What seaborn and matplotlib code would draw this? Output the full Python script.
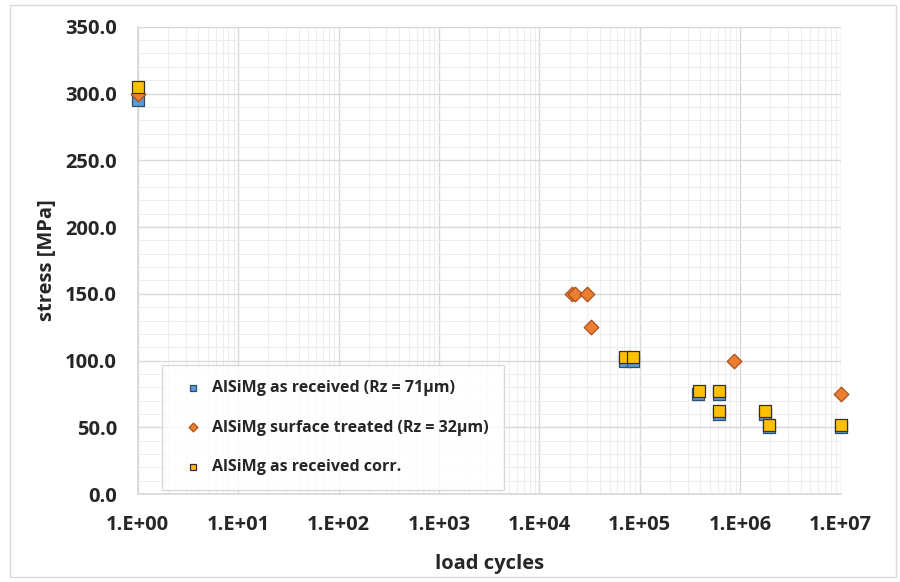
import numpy as np
import pandas as pd
import seaborn as sns
import matplotlib.pyplot as plt
from matplotlib.ticker import FixedLocator, MultipleLocator, LogLocator, NullFormatter
from matplotlib.patches import Rectangle

# values
received_cycles = [1, 7.1e4, 8.5e4, 3.8e5, 6.1e5, 6.1e5, 1.77e6, 1.94e6, 1.0e7]
received_stress = [295, 100, 100, 75, 75, 60, 60, 50, 50]

treated_cycles = [1, 2.1e4, 2.25e4, 2.95e4, 3.3e4, 8.7e5, 1.0e7]
treated_stress = [300, 150, 150, 150, 125, 100, 75]

corr_cycles = [1, 7.1e4, 8.5e4, 3.85e5, 6.1e5, 6.1e5, 1.77e6, 1.94e6, 1.0e7]
corr_stress = [305, 103, 103, 77, 77, 62, 62, 52, 52]

series_names = ["AlSiMg as received (Rz = 71µm)",
                "AlSiMg surface treated (Rz = 32µm)",
                "AlSiMg as received corr."]
x_tick_labels = ["1.E+00", "1.E+01", "1.E+02", "1.E+03",
                 "1.E+04", "1.E+05", "1.E+06", "1.E+07"]

df = pd.concat([
    pd.DataFrame({"cycles": received_cycles, "stress": received_stress, "series": series_names[0]}),
    pd.DataFrame({"cycles": treated_cycles, "stress": treated_stress, "series": series_names[1]}),
    pd.DataFrame({"cycles": corr_cycles, "stress": corr_stress, "series": series_names[2]}),
], ignore_index=True)

sns.set_theme(style="white")
plt.rcParams['font.family'] = ['Open Sans', 'DejaVu Sans']

fig = plt.figure(figsize=(9, 5.82), dpi=100)
ax = fig.add_axes([0.153, 0.151, 0.781, 0.803])

palette = {series_names[0]: "#5B9BD5", series_names[1]: "#ED7D31", series_names[2]: "#FFC000"}
markers = {series_names[0]: "s", series_names[1]: "D", series_names[2]: "s"}
edges = {series_names[0]: "#2F4F6F", series_names[1]: "#A8521C", series_names[2]: "#3A3020"}
sizes = {series_names[0]: 70, series_names[1]: 55, series_names[2]: 70}

for name in series_names:
    sns.scatterplot(data=df[df["series"] == name], x="cycles", y="stress",
                    color=palette[name], marker=markers[name], s=sizes[name],
                    edgecolor=edges[name], linewidth=0.9, label=name, ax=ax,
                    zorder=3, clip_on=False)

ax.set_xscale("log")
ax.set_xlim(1, 1e7)
ax.set_ylim(0, 350)

ax.xaxis.set_major_locator(FixedLocator([10.0 ** i for i in range(8)]))
ax.set_xticklabels(x_tick_labels)
ax.xaxis.set_minor_locator(LogLocator(base=10, subs=np.arange(2, 10), numticks=100))
ax.xaxis.set_minor_formatter(NullFormatter())
ax.yaxis.set_major_locator(MultipleLocator(50))
ax.yaxis.set_minor_locator(MultipleLocator(10))
ax.yaxis.set_major_formatter(plt.FuncFormatter(lambda v, p: f"{v:.1f}"))

ax.grid(which="major", color="#D9D9D9", linewidth=1.0)
ax.grid(which="minor", color="#EDEDED", linewidth=0.7)
ax.set_axisbelow(True)
for side in ["top", "right"]:
    ax.spines[side].set_visible(False)
ax.spines["bottom"].set_color("#D9D9D9")
ax.spines["left"].set_color("#D9D9D9")

ax.tick_params(axis="both", which="minor", length=0)
ax.tick_params(axis="both", which="major", length=7, color="#D9D9D9", width=1.0)
ax.tick_params(axis="y", pad=8, labelsize=14.5)
ax.tick_params(axis="x", pad=8, labelsize=14.5)
for lab in ax.get_xticklabels() + ax.get_yticklabels():
    lab.set_fontweight("bold")

ax.set_xlabel("load cycles", fontsize=14.5, fontweight="bold", labelpad=14)
ax.set_ylabel("stress [MPa]", fontsize=14.5, fontweight="bold", labelpad=6)

leg = ax.legend(loc="lower left", bbox_to_anchor=(0.034, 0.009), fontsize=11.5,
                frameon=True, fancybox=False, labelspacing=1.45, borderpad=0.95,
                handletextpad=0.2, markerscale=0.6, borderaxespad=0)
leg.get_frame().set_edgecolor("#D0D0D0")
leg.get_frame().set_linewidth(1.0)
for t in leg.get_texts():
    t.set_fontweight("bold")

fig.patches.append(Rectangle((0.011, 0.008), 0.984, 0.983, transform=fig.transFigure,
                             fill=False, edgecolor="#D9D9D9", linewidth=1.0))

fig.savefig("out.png", dpi=100)
